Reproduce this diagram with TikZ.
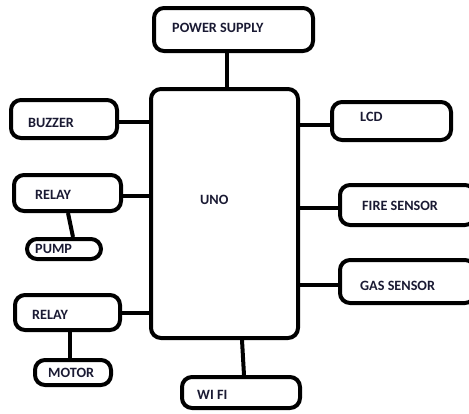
\documentclass[tikz,border=0pt]{standalone}
\usepackage{fontspec}
\setmainfont{Carlito}
\usepackage{xcolor}
\usepackage{tikz}
\usetikzlibrary{positioning}
\definecolor{inkblue}{HTML}{1A1A33}
\tikzset{
  block/.style={draw, rectangle, rounded corners=10pt, line width=4pt, inner sep=0pt},
  txt/.style={anchor=west, inner sep=0pt, text=inkblue, font=\fontsize{14.2}{16}\selectfont\bfseries},
  wire/.style={line width=4pt}
}

\begin{document}
\begin{tikzpicture}[x=1pt, y=-1pt]
\useasboundingbox (0,0) rectangle (469,413);
\clip (0,0) rectangle (469,413);

% Centre: controller
\node[block, minimum width=147pt, minimum height=249pt] (uno) at (224.5,213.5) {};
\node[block, minimum width=159pt, minimum height=43pt] (ps) at (233.5,29.5) {};
\node[block, minimum width=118pt, minimum height=31pt] (wifi) at (241,392.5) {};

% Left column
\node[block, minimum width=106pt, minimum height=38pt] (buzzer) at (64,119) {};
\node[block, minimum width=107pt, minimum height=36pt] (relayA) at (67.5,193) {};
\node[block, minimum width=74pt, minimum height=20pt] (pump) at (64,249) {};
\node[block, minimum width=105pt, minimum height=35pt] (relayB) at (67.5,312.5) {};
\node[block, minimum width=76pt, minimum height=25pt] (motor) at (73,372.5) {};

% Right column (runs off the edge)
\node[block, minimum width=119pt, minimum height=38pt] (lcd) at (391.5,121) {};
\node[block, minimum width=135pt, minimum height=40pt] (fire) at (407.5,205) {};
\node[block, minimum width=135pt, minimum height=43pt] (gas) at (407.5,281.5) {};

% Texts
\node[txt] (unoT) at (200,200) {UNO};
\node[txt] (psT) at (172,28) {POWER SUPPLY};
\node[txt] (wifiT) at (197,395) {WI FI};
\node[txt] (buzzerT) at (28,123) {BUZZER};
\node[txt] (relayAT) at (35,195) {RELAY};
\node[txt] (pumpT) at (35,249) {PUMP};
\node[txt] (relayBT) at (32,315) {RELAY};
\node[txt] (motorT) at (48,373) {MOTOR};
\node[txt] (lcdT) at (360,117) {LCD};
\node[txt] (fireT) at (362,206) {FIRE SENSOR};
\node[txt] (gasT) at (360,286) {GAS SENSOR};

% Connections
\draw[wire] ([xshift=-6.5pt]ps.south) -- ([xshift=2.5pt]uno.north);
\draw[wire] ([xshift=17.5pt]uno.south) -- ([xshift=3pt]wifi.north);
\draw[wire] ([yshift=-3pt]buzzer.east) -- ([yshift=-3pt]buzzer.east -| uno.west);
\draw[wire] ([yshift=-3pt]relayA.east) -- ([yshift=-3pt]relayA.east -| uno.west);
\draw[wire] (relayB.east) -- (relayB.east -| uno.west);
\draw[wire] ([yshift=-4pt]lcd.west) -- ([yshift=-4pt]lcd.west -| uno.east);
\draw[wire] ([yshift=-3pt]fire.west) -- ([yshift=-3pt]fire.west -| uno.east);
\draw[wire] ([yshift=-3.5pt]gas.west) -- ([yshift=-3.5pt]gas.west -| uno.east);
\draw[wire] ([xshift=0.5pt]relayA.south) -- ([xshift=9pt]pump.north);
\draw[wire] ([xshift=2.5pt]relayB.south) -- ([xshift=-3pt]motor.north);

\end{tikzpicture}
\end{document}
